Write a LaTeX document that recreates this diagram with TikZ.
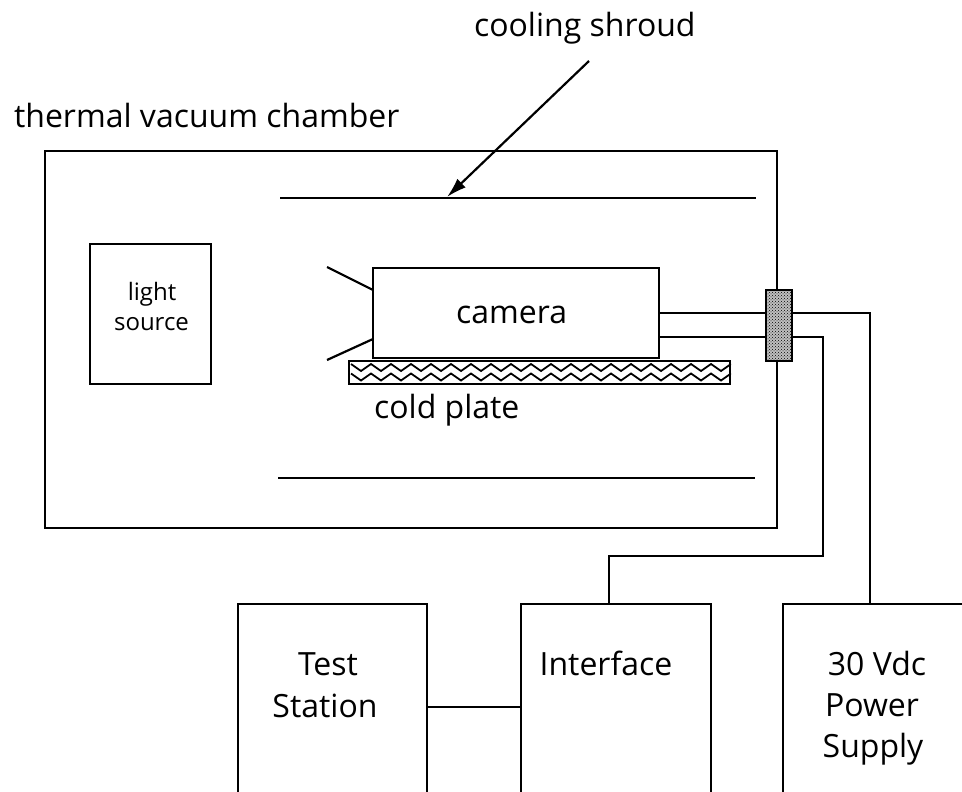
\documentclass[tikz,border=0pt]{standalone}
\usepackage{fontspec}
\setmainfont{Open Sans}
\usetikzlibrary{arrows.meta,patterns}

\begin{document}
\begin{tikzpicture}[x=1pt,y=-1pt,line width=2.2pt,
  box/.style={draw,line width=2.2pt,inner sep=0pt},
  wire/.style={line width=2.2pt},
  lbl/.style={font=\fontsize{32}{40}\selectfont,inner sep=0pt},
  small/.style={font=\fontsize{24}{30}\selectfont,inner sep=0pt}]

\useasboundingbox (0,0) rectangle (962,792);
\clip (0,0) rectangle (962,792);

% Chamber
\node[box,minimum width=732pt,minimum height=377pt] (chamber) at (411,339.5) {};
\node[lbl,anchor=base west] (chamberlbl) at (13,128) {thermal vacuum chamber};

% Cooling shroud
\coordinate (shtl) at (280,198);
\coordinate (shtr) at (756,198);
\coordinate (shbl) at (278,478);
\coordinate (shbr) at (755,478);
\draw[wire] (shtl) -- (shtr);
\draw[wire] (shbl) -- (shbr);
\node[lbl,anchor=base west] (shroudlbl) at (473,37) {cooling shroud};
\coordinate (arrtail) at (589,61);
\coordinate (arrhead) at (447,197);
\draw[wire,-{Latex[length=20pt,width=12pt]}] (arrtail) -- (arrhead);

% Light source
\node[box,minimum width=121pt,minimum height=140pt] (light) at (150.5,314) {};
\node[small,anchor=base] (lightlbl) at (152,300) {light};
\node[small,anchor=base] (sourcelbl) at (151.5,330) {source};

% Camera
\node[box,minimum width=286pt,minimum height=90pt] (cam) at (516,313) {};
\node[lbl,anchor=base west] (camlbl) at (455,323) {camera};
\coordinate (lensa) at (327,267);
\coordinate (lensb) at (327,360);
\draw[wire] (lensa) -- (373,290);
\draw[wire] (lensb) -- (373,339);

% Cold plate
\node[box,minimum width=381pt,minimum height=23pt] (plate) at (539.5,372.5) {};
\begin{scope}
\clip (plate.north west) rectangle (plate.south east);
\foreach \r in {364,373.5}{
  \draw[line width=1.8pt] (351,\r) \foreach \k in {0,...,18}{ -- ++(10,7) -- ++(10,-7)};
}
\end{scope}
\node[lbl,anchor=base west] (platelbl) at (373,418) {cold plate};

% Feedthrough
\node[box,preaction={fill=black!25},pattern=crosshatch dots,
  minimum width=26pt,minimum height=71pt] (ft) at (779,325.5) {};

% Bottom equipment
\node[box,minimum width=189pt,minimum height=246pt] (station) at (332.5,727) {};
\node[lbl,anchor=base] (testlbl) at (328,675) {Test};
\node[lbl,anchor=base] (stationlbl) at (325,717) {Station};
\node[box,minimum width=190pt,minimum height=246pt] (iface) at (616,727) {};
\node[lbl,anchor=base] (ifacelbl) at (606,675) {Interface};
\node[box,minimum width=207pt,minimum height=246pt] (psu) at (886.5,727) {};
\node[lbl,anchor=base] (vdclbl) at (877,675) {30 Vdc};
\node[lbl,anchor=base] (powerlbl) at (872,716) {Power};
\node[lbl,anchor=base] (supplylbl) at (873,757) {Supply};

% Cables
\coordinate (camhi) at (659,313);
\coordinate (camlo) at (659,337);
\coordinate (psuin) at (870,604);
\coordinate (ifin) at (609,604);
\draw[wire] (camhi) -- (ft.west |- camhi);
\draw[wire] (camlo) -- (ft.west |- camlo);
\draw[wire] (ft.east |- camhi) -| (psuin);
\draw[wire] (ft.east |- camlo) -- (823,337) -- (823,556) -| (ifin);
\draw[wire] (station.east |- 0,707) -- (iface.west |- 0,707);

\end{tikzpicture}
\end{document}
